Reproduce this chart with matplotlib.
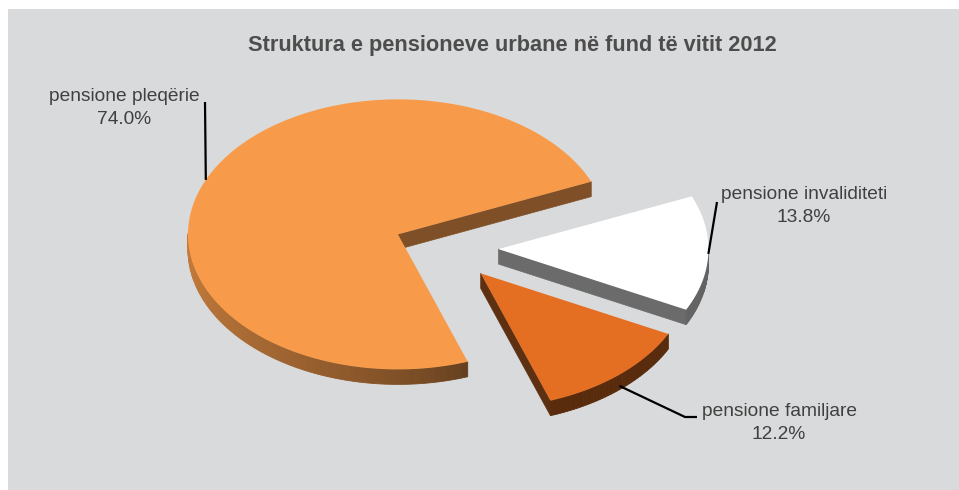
import numpy as np
import matplotlib.pyplot as plt
from matplotlib.patches import Polygon, Rectangle
from matplotlib.colors import to_rgb

plt.rcParams['font.family'] = ['Liberation Sans', 'DejaVu Sans']

title = 'Struktura e pensioneve urbane në fund të vitit 2012'
categories = ['pensione pleqërie', 'pensione familjare', 'pensione invaliditeti']
values = [74.0, 12.2, 13.8]

top_colors = ['#F79B4B', '#E46F22', '#FFFFFF']
side_colors = ['#7F5028', '#5C3010', '#6B6B6B']

# label placement (pixels) and leader line ends
label_pos = [(124, 108), (779, 423), (804, 206)]
leader_mid = [None, (685, 417), None]
leader_end = [(205, 102), (697, 417), (717, 202)]

# pie layout in pixels
cx, cy = 446, 248
rx, ry = 210, 135
depth = 15
explode = 0.25
start = 23.0

fig = plt.figure(figsize=(9.59, 4.90), dpi=100, facecolor='white')
ax = fig.add_axes([0, 0, 1, 1])
ax.set_xlim(0, 959)
ax.set_ylim(490, 0)
ax.axis('off')
ax.add_patch(Rectangle((8, 9), 960, 490, facecolor='#D9DADB', edgecolor='none', zorder=0))


def arc(x0, y0, a0, a1, n):
    t = np.radians(np.linspace(a0, a1, n))
    return x0 + rx * np.cos(t), y0 - ry * np.sin(t)


def wall_shade(a):
    a = a % 360
    t = np.clip((290 - a) / 110, 0, 1)
    return 0.39 + 0.42 * t ** 0.7


theta = start + np.concatenate([[0], np.cumsum(values)]) / sum(values) * 360
slices = []
for i in range(len(values)):
    a0, a1 = theta[i], theta[i + 1]
    mid = (a0 + a1) / 2
    vx = cx + explode * rx * np.cos(np.radians(mid))
    vy = cy - explode * ry * np.sin(np.radians(mid))
    slices.append((vy, i, a0, a1, mid, vx))

z = 2
anchors = {}
for vy, i, a0, a1, mid, vx in sorted(slices):
    top = np.array(to_rgb(top_colors[i]))
    # radial faces that look towards the viewer
    for a, vis in ((a0, np.cos(np.radians(a0)) > 0), (a1, np.cos(np.radians(a1)) < 0)):
        if vis:
            ex = vx + rx * np.cos(np.radians(a))
            ey = vy - ry * np.sin(np.radians(a))
            quad = [(vx, vy), (ex, ey), (ex, ey + depth), (vx, vy + depth)]
            ax.add_patch(Polygon(quad, closed=True, facecolor=side_colors[i],
                                 edgecolor=side_colors[i], lw=0.5, zorder=z))
    z += 1
    # curved outer wall, front half only
    n = int(abs(a1 - a0)) + 2
    xs, ys = arc(vx, vy, a0, a1, n)
    steps = np.linspace(a0, a1, n)
    for k in range(n - 1):
        am = (steps[k] + steps[k + 1]) / 2
        if np.sin(np.radians(am)) >= 0:
            continue
        c = np.clip(top * wall_shade(am), 0, 1)
        quad = [(xs[k], ys[k]), (xs[k + 1], ys[k + 1]),
                (xs[k + 1], ys[k + 1] + depth), (xs[k], ys[k] + depth)]
        ax.add_patch(Polygon(quad, closed=True, facecolor=c, edgecolor=c, lw=0.6, zorder=z))
    z += 1
    # top face
    pts = np.column_stack([np.r_[vx, xs], np.r_[vy, ys]])
    ax.add_patch(Polygon(pts, closed=True, facecolor=top, edgecolor='none', zorder=z))
    z += 1
    mx = vx + rx * np.cos(np.radians(mid))
    my = vy - ry * np.sin(np.radians(mid)) + depth * max(0, -np.sin(np.radians(mid)))
    anchors[i] = (mx, my)

for i in range(len(values)):
    px = [anchors[i][0]]
    py = [anchors[i][1]]
    if leader_mid[i] is not None:
        px.append(leader_mid[i][0])
        py.append(leader_mid[i][1])
    px.append(leader_end[i][0])
    py.append(leader_end[i][1])
    ax.plot(px, py, color='black', lw=1.6, zorder=z + 1, solid_capstyle='butt')
    ax.text(label_pos[i][0], label_pos[i][1], f'{categories[i]}\n{values[i]:.1f}%',
            ha='center', va='center', fontsize=13.8, color='#404040',
            linespacing=1.4, zorder=z + 2)

ax.text(512, 45, title, ha='center', va='center', fontsize=15.7,
        fontweight='bold', color='#4D4D4D', zorder=z + 2)

fig.savefig('out.png', dpi=100, facecolor='white')
